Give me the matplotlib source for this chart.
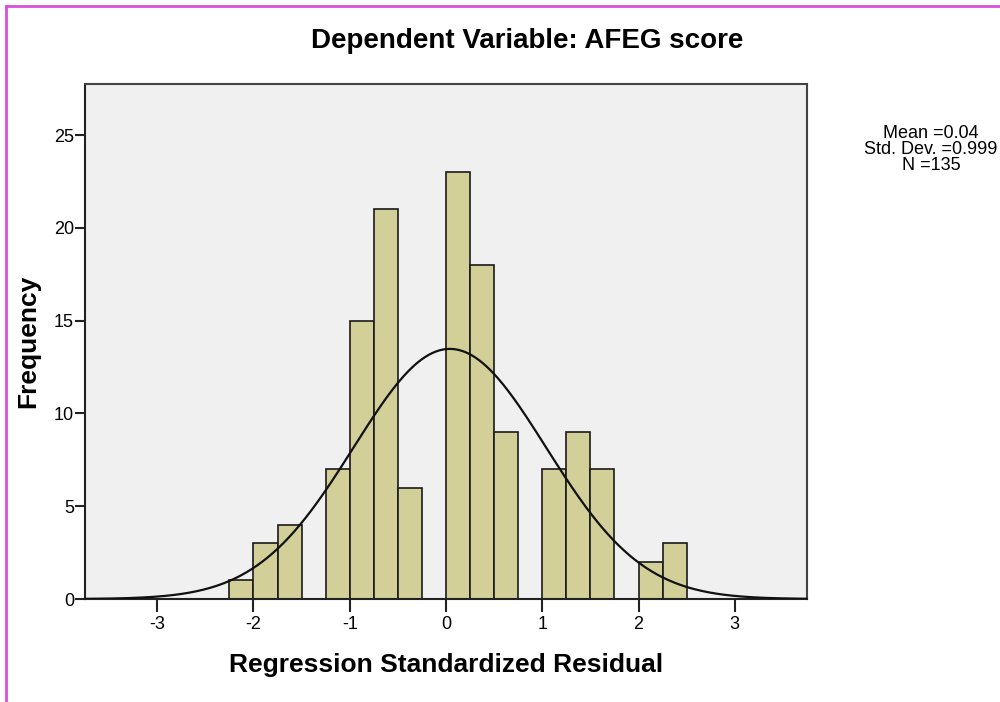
import numpy as np
import matplotlib
matplotlib.use("Agg")
import matplotlib.pyplot as plt
from matplotlib.lines import Line2D

plt.rcParams['font.family'] = ['Liberation Sans', 'DejaVu Sans']

# Histogram data (bin width 0.25)
bin_left = [-2.25, -2.0, -1.75, -1.5, -1.25, -1.0, -0.75, -0.5, -0.25,
            0.0, 0.25, 0.5, 0.75, 1.0, 1.25, 1.5, 1.75, 2.0, 2.25]
counts = [1, 3, 4, 0, 7, 15, 21, 6, 0,
          23, 18, 9, 0, 7, 9, 7, 0, 2, 3]
bin_width = 0.25

mean_val = 0.04
std_val = 0.999
n_val = 135

x_ticks = [-3, -2, -1, 0, 1, 2, 3]
y_ticks = [0, 5, 10, 15, 20, 25]

fig = plt.figure(figsize=(10, 7.02), dpi=100)
ax = fig.add_axes([0.085, 0.1467, 0.722, 0.7336])
ax.set_facecolor('#f0f0f0')

# barre dell'istogramma
for left, c in zip(bin_left, counts):
    if c > 0:
        ax.bar(left, c, width=bin_width, align='edge', color='#d3cf98',
               edgecolor='#1a1a1a', linewidth=1.2, zorder=2)

# curva normale
xs = np.linspace(-3.75, 3.75, 400)
ys = n_val * bin_width / (std_val * np.sqrt(2 * np.pi)) * np.exp(-0.5 * ((xs - mean_val) / std_val) ** 2)
ax.plot(xs, ys, color='#111111', lw=1.6, zorder=3)

ax.set_xlim(-3.75, 3.75)
ax.set_ylim(0, 27.75)
ax.set_xticks(x_ticks)
ax.set_xticklabels([str(t) for t in x_ticks])
ax.set_yticks(y_ticks)
ax.tick_params(axis='x', direction='out', length=9, width=1.5, labelsize=13, pad=3, color='#222222')
ax.tick_params(axis='y', direction='out', length=7, width=1.5, labelsize=13, pad=1, color='#222222')
for s in ax.spines.values():
    s.set_linewidth(1.5)
    s.set_color('#222222')
for s in ['top', 'right']:
    ax.spines[s].set_color('#444444')

# etichette degli assi
fig.text(0.446, 0.053, 'Regression Standardized Residual', fontsize=19,
         fontweight='bold', ha='center', va='center')
fig.text(0.028, 0.514, 'Frequency', fontsize=19, fontweight='bold',
         ha='center', va='center', rotation=90)

fig.text(0.527, 0.941, 'Dependent Variable: AFEG score', fontsize=20,
         fontweight='bold', ha='center', va='center')

# statistiche (tagliate dal bordo destro come nell'originale)
fig.text(0.931, 0.822, 'Mean =%.2f\nStd. Dev. =%.3f\nN =%d' % (mean_val, std_val, n_val),
         fontsize=13, ha='center', va='top', linespacing=0.92, multialignment='center')

# cornice magenta
fig.add_artist(Line2D([0.006, 1.0], [0.992, 0.992], color='#d94fd9', lw=2))
fig.add_artist(Line2D([0.006, 0.006], [0.0, 0.992], color='#d94fd9', lw=2))

fig.savefig('out.png', dpi=100)
